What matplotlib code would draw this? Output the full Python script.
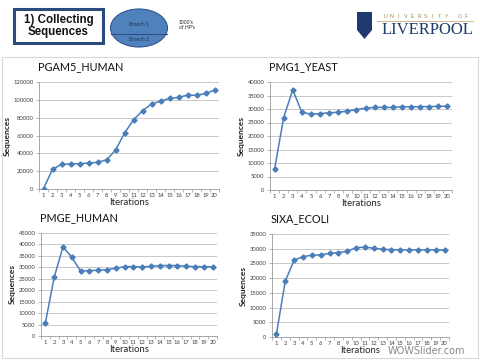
import matplotlib
matplotlib.use("Agg")
import matplotlib.pyplot as plt
from matplotlib.patches import Rectangle, Ellipse, Polygon
from matplotlib.lines import Line2D

iterations = list(range(1, 21))
pgam5_human = [500, 22000, 27700, 28000, 28500, 29000, 30000, 32600, 43500, 62600,
               77600, 87700, 95200, 98600, 101600, 102700, 105300, 105000, 107200, 110800]
pmg1_yeast = [7700, 26800, 37100, 28800, 28100, 28300, 28600, 28800, 29200, 29800,
              30300, 30600, 30600, 30600, 30800, 30800, 30900, 30900, 31000, 31000]
pmge_human = [5800, 25700, 39000, 34400, 28400, 28600, 28700, 29000, 29600, 30300,
              30300, 30200, 30400, 30800, 30800, 30800, 30500, 30300, 30300, 30200]
sixa_ecoli = [1000, 19000, 26100, 27300, 27800, 27900, 28400, 28700, 29100, 30400,
              30500, 30200, 29800, 29700, 29600, 29600, 29600, 29600, 29600, 29500]

charts = [
    ("PGAM5_HUMAN", pgam5_human, 120000, 20000, (39, 82, 219, 189)),
    ("PMG1_YEAST", pmg1_yeast, 40000, 5000, (270, 82, 452, 190)),
    ("PMGE_HUMAN", pmge_human, 45000, 5000, (41, 233, 217, 336)),
    ("SIXA_ECOLI", sixa_ecoli, 35000, 5000, (272, 234, 449, 337)),
]

W, H = 480, 360
fig = plt.figure(figsize=(4.8, 3.6), dpi=100)
fig.patch.set_facecolor("white")

def fx(x):
    return x / W

def fy(y):
    return 1 - y / H

FONT = ["Lato", "DejaVu Sans"]
LINE = "#4a7ebb"

# slide frame
fig.add_artist(Rectangle((fx(2), fy(358)), fx(476), 301 / H, transform=fig.transFigure,
                         fill=False, edgecolor="#d9d9d9", lw=0.8))

for title, vals, ymax, ystep, (l, t, r, b) in charts:
    ax = fig.add_axes([fx(l), fy(b), (r - l) / W, (b - t) / H])
    ax.plot(iterations, vals, color=LINE, lw=1.1, marker="D", ms=2.6,
            mec=LINE, mfc=LINE, zorder=3)
    ax.set_xlim(0.5, 20.5)
    ax.set_ylim(0, ymax)
    ax.set_yticks(range(0, ymax + 1, ystep))
    ax.set_xticks(iterations)
    ax.set_xticks([i + 0.5 for i in range(0, 21)], minor=True)
    ax.tick_params(axis="x", which="major", length=0, labelsize=4.2,
                   labelcolor="#404040", pad=3)
    ax.tick_params(axis="x", which="minor", length=2, color="#999999", width=0.5)
    ax.tick_params(axis="y", which="major", length=2, color="#999999", width=0.5,
                   labelsize=4.2, labelcolor="#404040", pad=2)
    for lab in ax.get_xticklabels() + ax.get_yticklabels():
        lab.set_family(FONT)
    ax.grid(axis="y", color="#bfbfbf", lw=0.6)
    ax.set_axisbelow(True)
    for s in ("top", "right"):
        ax.spines[s].set_visible(False)
    for s in ("left", "bottom"):
        ax.spines[s].set_color("#999999")
        ax.spines[s].set_linewidth(0.6)
    ax.set_xlabel("Iterations", fontsize=6.8, family=FONT, color="#222222", labelpad=0)
    ax.set_ylabel("Sequences", fontsize=6, family=FONT, color="#222222",
                  fontweight="bold", labelpad=2)
    fig.text(fx(l - 1), fy(t - 15), title, fontsize=7.8, family=FONT,
             color="#111111", va="center", ha="left")

# header box
fig.add_artist(Rectangle((fx(14), fy(43)), 89 / W, 34 / H, transform=fig.transFigure,
                         fill=False, edgecolor="#2b4a7e", lw=2.2))
fig.text(fx(58.5), fy(26), "1) Collecting\nSequences", fontsize=8.3, family="Liberation Sans",
         fontweight="bold", ha="center", va="center", linespacing=1.05, color="#111111")

# ellipse
fig.add_artist(Ellipse((fx(139), fy(28)), 57 / W, 38 / H, transform=fig.transFigure,
                       facecolor="#4f81bd", edgecolor="#2f5597", lw=0.8))
fig.add_artist(Line2D([fx(111), fx(167)], [fy(34), fy(34)], transform=fig.transFigure,
                      color="#2f4f82", lw=0.8))
fig.text(fx(139), fy(24), "Branch 1", fontsize=3.6, family=FONT, ha="center",
         va="center", color="#1f2f4f")
fig.text(fx(139), fy(39.5), "Branch 2", fontsize=3.6, family=FONT, ha="center",
         va="center", color="#1f2f4f")
fig.text(fx(179), fy(25), "1000's\nof HP's", fontsize=3.6, family=FONT, ha="left",
         va="center", color="#222222", linespacing=1.2)

# logo
shield = Polygon([(fx(357), fy(12)), (fx(372), fy(12)), (fx(372), fy(30)),
                  (fx(364.5), fy(39)), (fx(357), fy(30))], closed=True,
                 transform=fig.transFigure, facecolor="#1f3a6e", edgecolor="none")
fig.add_artist(shield)
for i, ch in enumerate("UNIVERSITY OF"):
    fig.text(fx(385 + i * 6.8), fy(16), ch, fontsize=3.8, family="Liberation Sans",
             color="#a08850", ha="center", va="center")
fig.add_artist(Line2D([fx(377), fx(473)], [fy(20.5), fy(20.5)], transform=fig.transFigure,
                      color="#c8b078", lw=0.6))
fig.text(fx(382), fy(30.5), "LIVERPOOL", fontsize=12, family="Liberation Serif",
         color="#1f3a6e", ha="left", va="center")

# watermark
fig.text(fx(388), fy(351), "WOWSlider.com", fontsize=7, family="DejaVu Sans",
         color="#8a8a8a", ha="left", va="center")

fig.savefig("out.png", dpi=100, facecolor="white")
